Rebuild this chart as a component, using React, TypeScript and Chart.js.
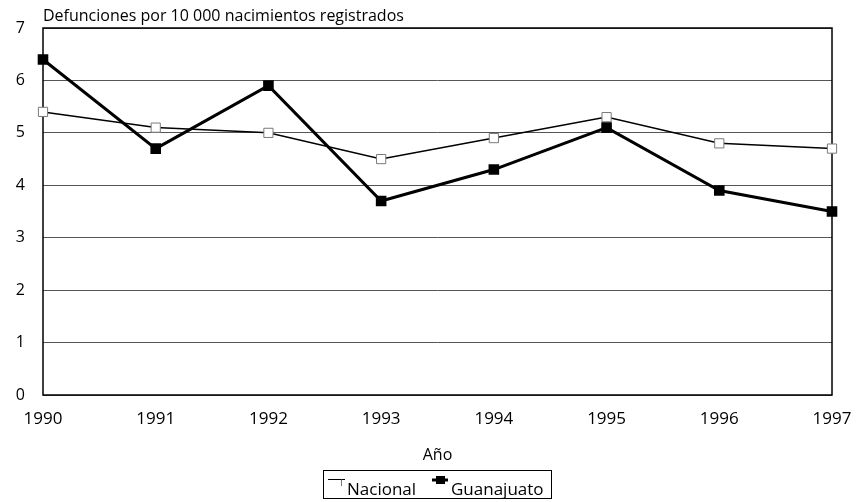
import React, { useEffect, useRef } from "react";
import { Chart, registerables } from "chart.js";

Chart.register(...registerables);

const years = ["1990", "1991", "1992", "1993", "1994", "1995", "1996", "1997"];
const nacional = [5.4, 5.1, 5.0, 4.5, 4.9, 5.3, 4.8, 4.7];
const guanajuato = [6.4, 4.7, 5.9, 3.7, 4.3, 5.1, 3.9, 3.5];
const yTicks = [0, 1, 2, 3, 4, 5, 6, 7];
const chartTitle = "Defunciones por 10 000 nacimientos registrados";
const xTitle = "Año";
const legendLabels = ["Nacional", "Guanajuato"];

const FONT = "'Open Sans', 'Noto Sans', sans-serif";

const decorPlugin = {
  id: "decor",
  beforeDatasetsDraw(chart: any) {
    const { ctx, chartArea } = chart;
    ctx.save();
    ctx.strokeStyle = "#000";
    ctx.lineWidth = 1.5;
    ctx.strokeRect(chartArea.left, chartArea.top, chartArea.right - chartArea.left, chartArea.bottom - chartArea.top);
    ctx.restore();
  },
  afterDraw(chart: any) {
    const { ctx, chartArea } = chart;
    ctx.save();
    ctx.fillStyle = "#000";
    // title
    ctx.font = `16px ${FONT}`;
    ctx.textAlign = "left";
    ctx.textBaseline = "alphabetic";
    ctx.fillText(chartTitle, chartArea.left, 21);
    // x title
    ctx.font = `16px ${FONT}`;
    ctx.textAlign = "center";
    ctx.fillText(xTitle, (chartArea.left + chartArea.right) / 2, 460);
    // legend
    const bx = 323, by = 470, bw = 228, bh = 28;
    ctx.strokeStyle = "#000";
    ctx.lineWidth = 1;
    ctx.strokeRect(bx + 0.5, by + 0.5, bw, bh);
    ctx.font = `17px ${FONT}`;
    ctx.textAlign = "left";
    // Nacional marker
    ctx.lineWidth = 1;
    ctx.strokeStyle = "#000";
    ctx.beginPath();
    ctx.moveTo(328, 479.5);
    ctx.lineTo(345, 479.5);
    ctx.stroke();
    ctx.strokeStyle = "#777";
    ctx.beginPath();
    ctx.moveTo(341.5, 479.5);
    ctx.lineTo(341.5, 486);
    ctx.stroke();
    ctx.fillStyle = "#000";
    ctx.fillText(legendLabels[0], 347, 495);
    // Guanajuato marker
    ctx.lineWidth = 3;
    ctx.strokeStyle = "#000";
    ctx.beginPath();
    ctx.moveTo(432, 480);
    ctx.lineTo(448, 480);
    ctx.stroke();
    ctx.fillRect(436, 476, 9, 8);
    ctx.fillText(legendLabels[1], 451, 495);
    ctx.restore();
  },
};

export default function App() {
  const ref = useRef<HTMLCanvasElement | null>(null);
  useEffect(() => {
    if (!ref.current) return;
    const chart = new Chart(ref.current, {
      type: "line",
      data: {
        labels: years,
        datasets: [
          {
            label: legendLabels[0],
            data: nacional,
            borderColor: "#000",
            borderWidth: 1.5,
            pointStyle: "rect",
            pointRadius: 6.5,
            pointBorderColor: "#7a7a7a",
            pointBackgroundColor: "#fff",
            pointBorderWidth: 1,
            order: 1,
            tension: 0,
          },
          {
            label: legendLabels[1],
            data: guanajuato,
            borderColor: "#000",
            borderWidth: 3,
            pointStyle: "rect",
            pointRadius: 7.5,
            pointBorderColor: "#000",
            pointBackgroundColor: "#000",
            pointBorderWidth: 0,
            order: 0,
            tension: 0,
          },
        ],
      },
      options: {
        responsive: false,
        animation: false,
        layout: { padding: { top: 28, right: 25, left: 0, bottom: 0 } },
        plugins: { legend: { display: false }, title: { display: false }, tooltip: { enabled: false } },
        scales: {
          x: {
            type: "category",
            offset: false,
            grid: { display: false, drawTicks: false },
            border: { display: false },
            ticks: { color: "#000", font: { family: FONT, size: 17 }, padding: 14, maxRotation: 0, autoSkip: false },
            afterFit: (axis: any) => {
              axis.height = 107;
              axis.paddingLeft = 0;
              axis.paddingRight = 0;
            },
          },
          y: {
            min: 0,
            max: 7,
            grid: { color: "#555", lineWidth: 1, drawTicks: false },
            border: { display: false },
            afterBuildTicks: (axis: any) => { axis.ticks = yTicks.map((v) => ({ value: v })); },
            ticks: { color: "#000", font: { family: FONT, size: 16 }, padding: 18 },
            afterFit: (axis: any) => {
              axis.width = 43;
              axis.paddingTop = 0;
              axis.paddingBottom = 0;
            },
          },
        },
      },
      plugins: [decorPlugin],
    });
    return () => chart.destroy();
  }, []);
  return (
    <div style={{ position: "fixed", left: 0, top: 0, width: 857, height: 502, background: "#fff" }}>
      <canvas ref={ref} width={857} height={502} />
    </div>
  );
}
